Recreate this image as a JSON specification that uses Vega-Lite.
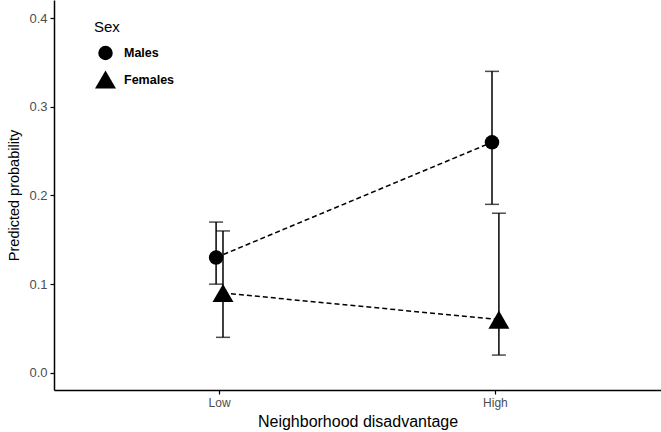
{
  "$schema": "https://vega.github.io/schema/vega-lite/v6.json",
  "width": 607,
  "height": 390,
  "autosize": {"type": "none"},
  "padding": {"left": 54, "top": 0, "right": 0, "bottom": 42},
  "background": "white",
  "config": {
    "view": {"stroke": null},
    "font": "Liberation Sans",
    "axis": {"grid": false, "domainColor": "black", "domainWidth": 1.5, "tickColor": "black", "tickWidth": 1.2, "tickSize": 4, "labelColor": "#4d4d4d", "labelFont": "Liberation Sans", "titleFont": "Liberation Sans", "titleFontWeight": "normal", "titleColor": "black"}
  },
  "data": {
    "values": [
      {"disadvantage": "Low", "sex": "Males", "prob": 0.13, "lower": 0.10, "upper": 0.17},
      {"disadvantage": "High", "sex": "Males", "prob": 0.26, "lower": 0.19, "upper": 0.34},
      {"disadvantage": "Low", "sex": "Females", "prob": 0.09, "lower": 0.04, "upper": 0.16},
      {"disadvantage": "High", "sex": "Females", "prob": 0.06, "lower": 0.02, "upper": 0.18}
    ]
  },
  "encoding": {
    "x": {"field": "disadvantage", "type": "nominal", "sort": ["Low", "High"],
      "scale": {"domain": ["Low", "High"], "paddingInner": 0.95, "paddingOuter": 0.575},
      "axis": {"title": "Neighborhood disadvantage", "labelAngle": 0, "labelFontSize": 12, "titleFontSize": 16, "labelPadding": 3, "titlePadding": 5}},
    "xOffset": {"field": "sex", "type": "nominal", "scale": {"domain": ["Males", "Females"]}},
    "y": {"field": "prob", "type": "quantitative",
      "scale": {"domain": [-0.0194, 0.4205], "nice": false, "zero": false},
      "axis": {"title": "Predicted probability", "values": [0, 0.1, 0.2, 0.3, 0.4], "format": ".1f", "labelFontSize": 13, "titleFontSize": 14.5, "labelPadding": 3, "titlePadding": 7}}
  },
  "layer": [
    {"mark": {"type": "line", "color": "black", "strokeDash": [5, 3], "strokeWidth": 1.5},
      "encoding": {"detail": {"field": "sex"}}},
    {"mark": {"type": "rule", "color": "black", "strokeWidth": 1.5},
      "encoding": {"y": {"field": "lower", "type": "quantitative"}, "y2": {"field": "upper"}}},
    {"mark": {"type": "tick", "color": "black", "thickness": 1.5, "size": 14},
      "encoding": {"y": {"field": "upper", "type": "quantitative"}}},
    {"mark": {"type": "tick", "color": "black", "thickness": 1.5, "size": 14},
      "encoding": {"y": {"field": "lower", "type": "quantitative"}}},
    {"mark": {"type": "point", "filled": true, "color": "black", "opacity": 1},
      "encoding": {
        "shape": {"field": "sex", "type": "nominal", "scale": {"domain": ["Males", "Females"], "range": ["circle", "triangle-up"]},
          "legend": {"title": "Sex", "orient": "none", "legendX": 40, "legendY": 20, "titleFontSize": 15, "titleFontWeight": "normal", "labelFontSize": 12.5, "labelFontWeight": "bold", "titleColor": "black", "labelColor": "black", "rowPadding": 3, "titlePadding": 10, "labelOffset": 7, "symbolFillColor": "black", "symbolStrokeColor": "black"}},
        "size": {"field": "sex", "type": "nominal", "scale": {"domain": ["Males", "Females"], "range": [210, 440]},
          "legend": {"title": "Sex", "orient": "none", "legendX": 40, "legendY": 20, "titleFontSize": 15, "titleFontWeight": "normal", "labelFontSize": 12.5, "labelFontWeight": "bold", "titleColor": "black", "labelColor": "black", "rowPadding": 3, "titlePadding": 10, "labelOffset": 7, "symbolFillColor": "black", "symbolStrokeColor": "black"}}
      }}
  ]
}
